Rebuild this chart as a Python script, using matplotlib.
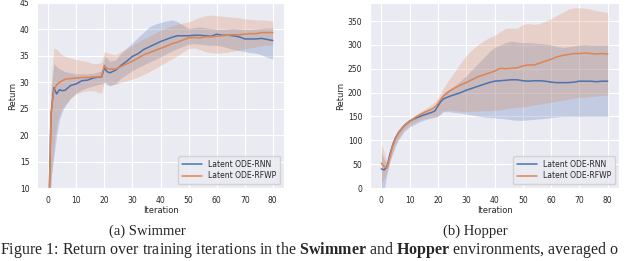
import matplotlib
matplotlib.use("Agg")
import matplotlib.pyplot as plt
import seaborn as sns
import numpy as np

sns.set_style("darkgrid")
plt.rcParams['font.family'] = ['DejaVu Sans']
plt.rcParams['mathtext.fontset'] = 'custom'
plt.rcParams['mathtext.rm'] = 'Liberation Serif'
plt.rcParams['mathtext.bf'] = 'Liberation Serif:bold'

iters = [0, 1, 2, 3, 4, 5, 6, 8, 10, 12, 14, 16, 18, 19, 20, 21, 22,
         24, 26, 28, 30, 32, 34, 36, 38, 40, 42, 44, 46, 48, 50,
         52, 54, 56, 58, 60, 62, 64, 66, 68, 70, 72, 74, 76, 78, 80]

# Swimmer
sw_rnn = [0, 24, 29, 27.8, 28.6, 28.4, 28.5, 29.4, 29.7, 30.3, 30.4, 30.8, 31.0, 31.0, 32.7, 32.0, 31.8,
          32.3, 33.2, 34.0, 34.9, 35.4, 36.2, 36.7, 37.2, 37.7, 38.1, 38.5, 38.8, 38.8, 38.8,
          38.9, 38.9, 38.8, 38.7, 39.1, 38.9, 38.9, 38.8, 38.6, 38.2, 38.2, 38.2, 38.3, 38.1, 37.9]
sw_rnn_hi = [0, 28, 33.5, 33, 32.5, 32.3, 32, 31.8, 31.6, 31.6, 31.6, 31.7, 32, 32.2, 35, 34.5, 34.0,
             34.2, 35.5, 36.5, 37.5, 38.5, 39.5, 40.5, 41, 41.3, 41.6, 41.8, 41.5, 40.8, 40.2,
             40.3, 40.5, 40.3, 40.2, 40.0, 40.0, 40.1, 40.2, 40.1, 40.0, 40.0, 40.1, 40.2, 40.3, 40.3]
sw_rnn_lo = [0, 12, 16, 20, 23, 24.5, 25.5, 27, 28, 28.6, 29, 29.3, 29.6, 29.7, 30, 29.5, 29.3,
             29.8, 30.8, 31.5, 32.2, 32.8, 33.3, 33.8, 34.3, 34.8, 35.4, 35.9, 36.4, 36.8, 37.2,
             37.3, 37.2, 37.1, 37.0, 37.0, 36.8, 36.5, 36.2, 36.0, 35.8, 35.6, 35.5, 35.2, 34.7, 34.4]
sw_rfwp = [0, 24, 28.5, 29.5, 30.0, 30.3, 30.6, 30.7, 30.8, 30.9, 30.9, 31.0, 31.0, 31.1, 33.2, 32.6, 32.5,
           32.5, 33.0, 33.5, 34.0, 34.6, 35.2, 35.6, 36.0, 36.4, 36.8, 37.3, 37.6, 38.0, 38.4,
           38.5, 38.4, 38.6, 38.6, 38.7, 38.8, 38.9, 39.0, 39.0, 39.1, 39.2, 39.2, 39.4, 39.4, 39.4]
sw_rfwp_hi = [0, 30, 36.5, 36.3, 35.6, 35.2, 34.9, 34.6, 34.3, 34.1, 33.9, 33.5, 33.6, 33.8, 35.8, 35.6, 35.4,
              35.2, 35.8, 36.4, 37.0, 37.6, 38.2, 38.8, 39.3, 39.8, 40.3, 40.7, 41.0, 41.2, 41.4,
              41.9, 42.3, 42.6, 42.7, 42.6, 42.5, 42.4, 42.3, 42.2, 42.0, 41.9, 41.8, 41.8, 41.7, 41.6]
sw_rfwp_lo = [0, 10.5, 18, 22, 24, 25, 25.8, 27, 27.8, 28.2, 28.4, 28.4, 28.1, 27.9, 30.2, 29.8, 29.5,
              29.6, 30.0, 30.3, 30.6, 31.0, 31.5, 32.0, 32.6, 33.2, 33.8, 34.4, 35.0, 35.7, 36.4,
              36.5, 36.2, 35.8, 35.6, 35.5, 35.6, 35.7, 35.9, 36.1, 36.3, 36.5, 36.7, 36.9, 37.0, 37.1]

# Hopper
ho_rnn = [40, 38, 45, 70, 90, 105, 115, 130, 140, 146, 151, 155, 159, 162, 172, 181, 187,
          192, 196, 200, 205, 209, 213, 217, 221, 224, 225, 226, 227, 227, 225,
          224, 225, 225, 224, 222, 221, 221, 221, 222, 224, 224, 224, 223, 224, 224]
ho_rnn_hi = [75, 60, 50, 78, 96, 110, 122, 135, 145, 151, 157, 161, 165, 168, 178, 190, 200,
             207, 215, 225, 235, 248, 260, 272, 285, 295, 300, 305, 308, 306, 305,
             305, 304, 303, 302, 300, 297, 295, 296, 298, 300, 301, 300, 300, 300, 300]
ho_rnn_lo = [0, -5, 30, 55, 72, 88, 100, 118, 128, 134, 140, 144, 147, 148, 150, 155, 160,
             160, 158, 157, 155, 153, 151, 149, 148, 147, 146, 145, 143, 142, 142,
             143, 144, 145, 146, 148, 149, 150, 150, 150, 150, 150, 150, 150, 150, 150]
ho_rfwp = [52, 45, 42, 65, 88, 103, 115, 130, 139, 148, 155, 161, 166, 170, 177, 186, 193,
           203, 210, 216, 221, 227, 233, 237, 241, 245, 251, 250, 251, 252, 256,
           258, 258, 262, 266, 270, 275, 278, 280, 282, 282, 283, 282, 281, 282, 281]
ho_rfwp_hi = [92, 75, 55, 80, 100, 112, 123, 136, 145, 153, 161, 168, 176, 181, 190, 200, 210,
              228, 245, 262, 278, 290, 300, 308, 315, 320, 328, 335, 335, 335, 343,
              345, 343, 345, 350, 355, 362, 368, 375, 378, 378, 377, 375, 372, 370, 368]
ho_rfwp_lo = [10, 20, 32, 55, 75, 92, 105, 122, 132, 138, 144, 147, 149, 150, 152, 158, 163,
              163, 162, 161, 160, 161, 161, 162, 162, 163, 164, 166, 168, 169, 170,
              172, 174, 176, 178, 180, 182, 184, 186, 188, 190, 191, 192, 193, 194, 195]

blue = '#4c72b0'
orange = '#dd8452'

fig = plt.figure(figsize=(6.4, 2.61), dpi=100)
ax1 = fig.add_axes([37/640, 73/261, 247/640, 185/261])
ax2 = fig.add_axes([370/640, 73/261, 249/640, 185/261])

panels = [
    (ax1, sw_rnn, sw_rnn_lo, sw_rnn_hi, sw_rfwp, sw_rfwp_lo, sw_rfwp_hi, (10, 45)),
    (ax2, ho_rnn, ho_rnn_lo, ho_rnn_hi, ho_rfwp, ho_rfwp_lo, ho_rfwp_hi, (0, 388)),
]
for ax, m1, l1, h1, m2, l2, h2, yl in panels:
    ax.fill_between(iters, l1, h1, color=blue, alpha=0.25, lw=0)
    ax.fill_between(iters, l2, h2, color=orange, alpha=0.25, lw=0)
    ax.plot(iters, m1, color=blue, lw=1.1, label='Latent ODE-RNN')
    ax.plot(iters, m2, color=orange, lw=1.1, label='Latent ODE-RFWP')
    ax.set_xlim(-4, 84)
    ax.set_ylim(*yl)
    ax.set_xticks(range(0, 81, 10))
    ax.tick_params(labelsize=5.5, pad=2)
    ax.set_xlabel('Iteration', fontsize=6, labelpad=1)
    ax.set_ylabel('Return', fontsize=6, labelpad=2)
    ax.legend(loc='lower right', fontsize=5.5, handlelength=2.6, borderpad=0.5,
              labelspacing=0.3, framealpha=0.8)

ax2.set_yticks(range(0, 351, 50))

fig.text(147/640, 1 - 231/261, '(a) Swimmer', ha='center', va='center',
         family='Liberation Serif', fontsize=10.5)
fig.text(475/640, 1 - 231/261, '(b) Hopper', ha='center', va='center',
         family='Liberation Serif', fontsize=10.5)
fig.text(0, 1 / 261,
         r'Figure 1: Return over training iterations in the $\mathbf{Swimmer}$ and '
         r'$\mathbf{Hopper}$ environments, averaged o',
         ha='left', va='bottom', family='Liberation Serif', fontsize=11.5)

fig.savefig('out.png', dpi=100)
